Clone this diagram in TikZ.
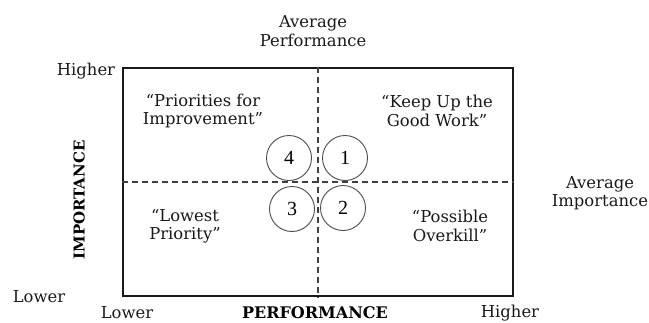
\documentclass[tikz,border=0pt]{standalone}
\usepackage{fontspec}
\setmainfont{DejaVu Serif}
\newfontfamily\digitfont{Liberation Serif}
\begin{document}
\begin{tikzpicture}[x=1pt,y=-1pt,
  lbl/.style={font=\fontsize{16.4}{18.5}\selectfont, align=center, inner sep=0pt, text=black!90},
  axis/.style={font=\bfseries\fontsize{16}{18}\selectfont, inner sep=0pt, text depth=0pt},
  grid/.style={rectangle, draw=black!90, line width=2.8pt, minimum width=390pt, minimum height=228pt, inner sep=0pt},
  midline/.style={dashed, dash pattern=on 6pt off 4pt, line width=1.4pt, draw=black!75},
  quad/.style={circle, draw=black!70, line width=0.9pt, minimum size=45pt, inner sep=0pt, font=\digitfont\fontsize{20}{21}\selectfont}
]
\useasboundingbox (0,0) rectangle (649,322);

% matrix frame
\node[grid] (box) at (318,182) {};
\draw[midline] (box.north) -- (box.south);
\draw[midline] (box.west) -- (box.east);

% quadrant markers
\node[quad] (q4) at (289,158) {4};
\node[quad] (q1) at (345,158) {1};
\node[quad] (q3) at (292,209) {3};
\node[quad] (q2) at (343,208) {2};

% quadrant names
\node[lbl] (pri) at (203,111) {“Priorities for\\Improvement”};
\node[lbl] (keep) at (437,111) {“Keep Up the\\Good Work”};
\node[lbl] (low) at (185,226) {“Lowest\\Priority”};
\node[lbl] (over) at (450,226) {“Possible\\Overkill”};

% axis marks
\node[lbl] (avgp) at (313,31) {Average\\Performance};
\node[lbl] (avgi) at (600,193) {Average\\Importance};
\node[lbl] (hiy) at (86,71) {Higher};
\node[lbl] (loy) at (39,297) {Lower};
\node[lbl] (lox) at (127,313) {Lower};
\node[lbl] (hix) at (510,313) {Higher};
\node[axis, font=\bfseries\fontsize{15}{17}\selectfont, rotate=90] (imp) at (79,200) {IMPORTANCE};
\node[axis, anchor=base] (perf) at (315,318.5) {PERFORMANCE};
\end{tikzpicture}
\end{document}
